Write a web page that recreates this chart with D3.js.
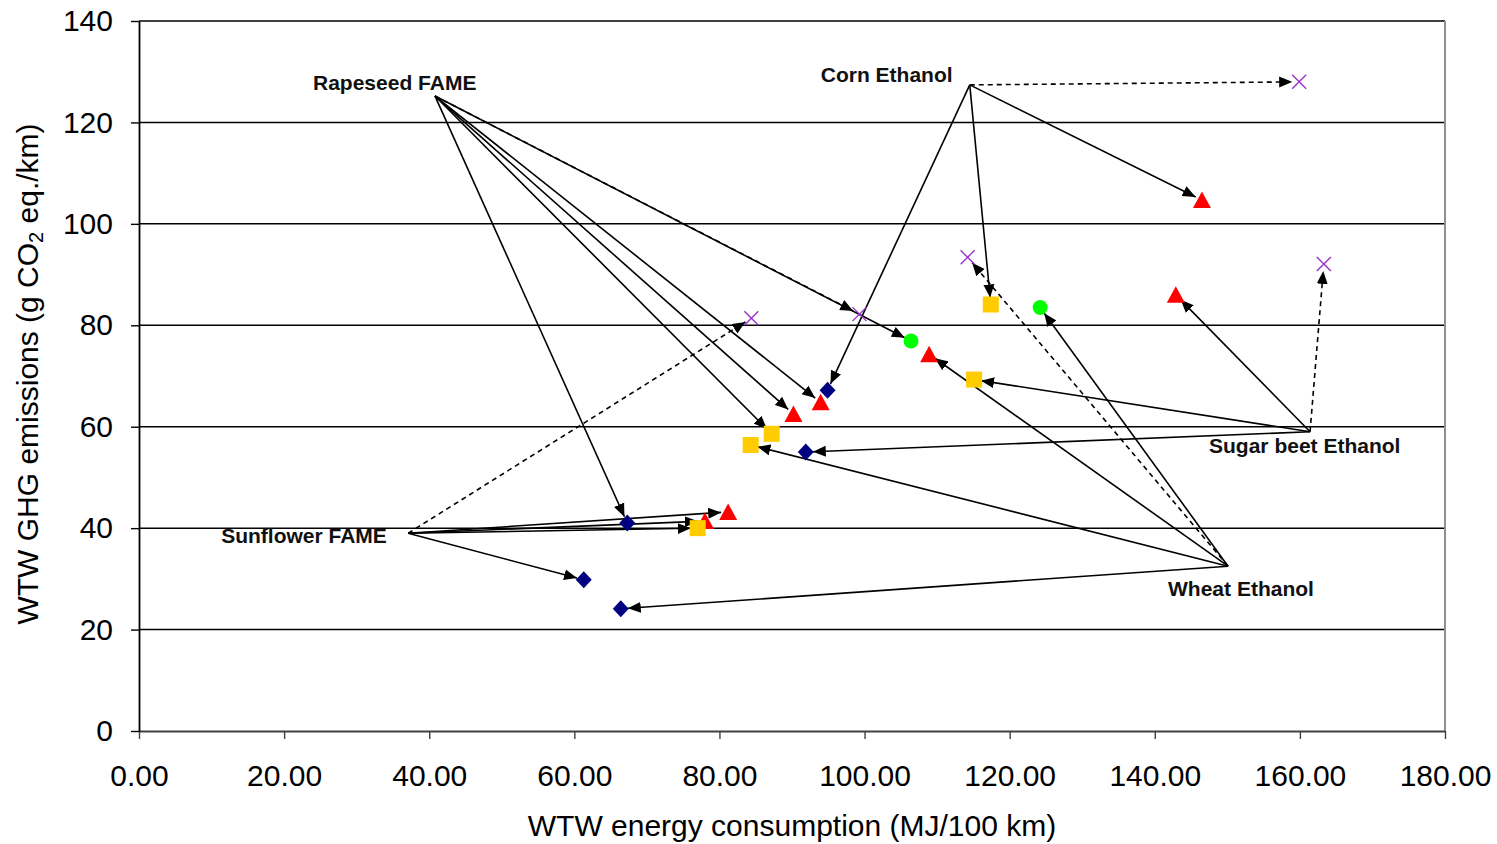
<!DOCTYPE html>
<html>
<head>
<meta charset="utf-8">
<script src="https://cdn.jsdelivr.net/npm/d3@7"></script>
<style>
  html, body { margin: 0; padding: 0; background: #fff; }
  svg { display: block; }
</style>
</head>
<body>
<svg id="chart" width="1497" height="844"></svg>
<script>
// ---------------- data ----------------
const xTicks = [0, 20, 40, 60, 80, 100, 120, 140, 160, 180];
const yTicks = [0, 20, 40, 60, 80, 100, 120, 140];

// pathway origins (label anchor points)
const pathways = ["Rapeseed FAME", "Corn Ethanol", "Sugar beet Ethanol", "Wheat Ethanol", "Sunflower FAME"];
const pathwayX = [40.8, 114.5, 161.4, 150.1, 37.1];
const pathwayY = [125.2, 127.4, 59.0, 32.5, 39.0];

// marker series: [energy MJ/100km, GHG g CO2 eq./km]
const diamonds  = [[67.3, 41.0], [61.3, 29.8], [66.4, 24.1], [91.9, 55.0], [94.9, 67.2]];
const triangles = [[146.5, 104.7], [142.9, 86.0], [108.9, 74.3], [93.95, 64.8], [90.2, 62.5], [81.2, 43.2], [78.0, 41.4]];
const squares   = [[117.4, 84.1], [115.1, 69.3], [87.2, 58.6], [84.3, 56.4], [77.0, 40.0]];
const circles   = [[106.4, 76.9], [124.2, 83.5]];
const crosses   = [[159.9, 128.0], [114.2, 93.4], [163.3, 92.1], [84.4, 81.4], [99.3, 82.2]];

// arrows: [pathway index, series name, point index]
const links = [
  [0, "diamond", 0], [0, "square", 2], [0, "triangle", 4], [0, "triangle", 3], [0, "cross", 4], [0, "circle", 0],
  [1, "cross", 0], [1, "triangle", 0], [1, "square", 0], [1, "diamond", 4],
  [2, "triangle", 1], [2, "cross", 2], [2, "square", 1], [2, "diamond", 3],
  [3, "cross", 1], [3, "circle", 1], [3, "triangle", 2], [3, "square", 3], [3, "diamond", 2],
  [4, "cross", 3], [4, "triangle", 5], [4, "triangle", 6], [4, "square", 4], [4, "diamond", 1]
];

// ---------------- layout ----------------
const series = { diamond: diamonds, triangle: triangles, square: squares, circle: circles, cross: crosses };
const plot = { left: 139, right: 1445, top: 21, bottom: 731 };
// label text offsets (px) relative to the pathway origin: [dx of text start, dy of baseline]
const labelOffsets = [[-122, -6], [-149, -3], [-101, 21], [-60, 30], [-187, 10]];

const svg = d3.select("#chart");
svg.append("rect").attr("width", 1497).attr("height", 844).attr("fill", "#fff");

const x = d3.scaleLinear().domain([0, 180]).range([plot.left, plot.right]);
const y = d3.scaleLinear().domain([0, 140]).range([plot.bottom, plot.top]);

// gridlines
svg.append("g").selectAll("line").data(yTicks.filter(d => d > 0)).join("line")
  .attr("x1", plot.left).attr("x2", plot.right)
  .attr("y1", d => y(d)).attr("y2", d => y(d))
  .attr("stroke", "#000").attr("stroke-width", 1.5);

// right border
svg.append("line").attr("x1", plot.right).attr("x2", plot.right)
  .attr("y1", plot.top).attr("y2", plot.bottom)
  .attr("stroke", "#909090").attr("stroke-width", 2);

// axes
const xAxis = svg.append("g").attr("transform", `translate(0,${plot.bottom})`)
  .call(d3.axisBottom(x).tickValues(xTicks).tickFormat(d3.format(".2f")).tickSize(8).tickPadding(26).tickSizeOuter(0));
xAxis.select(".domain").attr("stroke", "#404040").attr("stroke-width", 2.2);
xAxis.selectAll(".tick line").attr("stroke", "#404040").attr("stroke-width", 1.4);
xAxis.selectAll("text").attr("font-family", "'Liberation Sans', Arial, sans-serif").attr("font-size", 30).attr("fill", "#000");

const yAxis = svg.append("g").attr("transform", `translate(${plot.left},0)`)
  .call(d3.axisLeft(y).tickValues(yTicks).tickFormat(d3.format("d")).tickSize(8).tickPadding(18).tickSizeOuter(0));
yAxis.select(".domain").attr("stroke", "#000").attr("stroke-width", 1.8);
yAxis.selectAll(".tick line").attr("stroke", "#000").attr("stroke-width", 1.4);
yAxis.selectAll("text").attr("font-family", "'Liberation Sans', Arial, sans-serif").attr("font-size", 30).attr("fill", "#000");

// axis titles
svg.append("text").attr("x", (plot.left + plot.right) / 2).attr("y", 836)
  .attr("text-anchor", "middle")
  .attr("font-family", "'Liberation Sans', Arial, sans-serif").attr("font-size", 30)
  .text("WTW energy consumption (MJ/100 km)");

const yt = svg.append("text").attr("transform", `translate(38,${(plot.top + plot.bottom) / 2 - 2}) rotate(-90)`)
  .attr("text-anchor", "middle")
  .attr("font-family", "'Liberation Sans', Arial, sans-serif").attr("font-size", 30);
yt.append("tspan").text("WTW GHG emissions (g CO");
yt.append("tspan").attr("font-size", 20).attr("dy", 5).text("2");
yt.append("tspan").attr("dy", -5).text(" eq./km)");

// arrowhead
const defs = svg.append("defs");
defs.append("marker").attr("id", "arrow")
  .attr("viewBox", "-13 -6 13 12").attr("refX", 0).attr("refY", 0)
  .attr("markerWidth", 13).attr("markerHeight", 12)
  .attr("markerUnits", "userSpaceOnUse").attr("orient", "auto")
  .append("path").attr("d", "M0,0 L-13,-5.5 L-13,5.5 Z").attr("fill", "#000");

// arrows
const gap = 7;
svg.append("g").selectAll("line").data(links).join("line")
  .each(function (l) {
    const sx = x(pathwayX[l[0]]), sy = y(pathwayY[l[0]]);
    const p = series[l[1]][l[2]];
    const tx = x(p[0]), ty = y(p[1]);
    const dx = tx - sx, dy = ty - sy, len = Math.hypot(dx, dy);
    d3.select(this)
      .attr("x1", sx).attr("y1", sy)
      .attr("x2", tx - dx / len * gap).attr("y2", ty - dy / len * gap)
      .attr("stroke", "#000").attr("stroke-width", 1.6)
      .attr("stroke-dasharray", l[1] === "cross" ? "5,4" : null)
      .attr("marker-end", "url(#arrow)");
  });

// markers
const mg = svg.append("g");
mg.selectAll(".dia").data(diamonds).join("path")
  .attr("transform", d => `translate(${x(d[0])},${y(d[1])})`)
  .attr("d", "M0,-8.5 L8,0 L0,8.5 L-8,0 Z").attr("fill", "#000080");
mg.selectAll(".tri").data(triangles).join("path")
  .attr("transform", d => `translate(${x(d[0])},${y(d[1])})`)
  .attr("d", "M0,-8.5 L9,8 L-9,8 Z").attr("fill", "#ff0000");
mg.selectAll(".sq").data(squares).join("rect")
  .attr("x", d => x(d[0]) - 8).attr("y", d => y(d[1]) - 8)
  .attr("width", 16).attr("height", 16).attr("fill", "#ffcc00");
mg.selectAll(".ci").data(circles).join("circle")
  .attr("cx", d => x(d[0])).attr("cy", d => y(d[1])).attr("r", 7.5).attr("fill", "#00ff00");
mg.selectAll(".cr").data(crosses).join("path")
  .attr("transform", d => `translate(${x(d[0])},${y(d[1])})`)
  .attr("d", "M-7,-7 L7,7 M-7,7 L7,-7").attr("fill", "none")
  .attr("stroke", "#9933cc").attr("stroke-width", 1.4);

// pathway labels
svg.append("g").selectAll("text").data(pathways).join("text")
  .attr("x", (d, i) => x(pathwayX[i]) + labelOffsets[i][0])
  .attr("y", (d, i) => y(pathwayY[i]) + labelOffsets[i][1])
  .attr("font-family", "'Liberation Sans', Arial, sans-serif")
  .attr("font-weight", "bold").attr("font-size", 21).attr("fill", "#111")
  .text(d => d);
</script>
</body>
</html>
